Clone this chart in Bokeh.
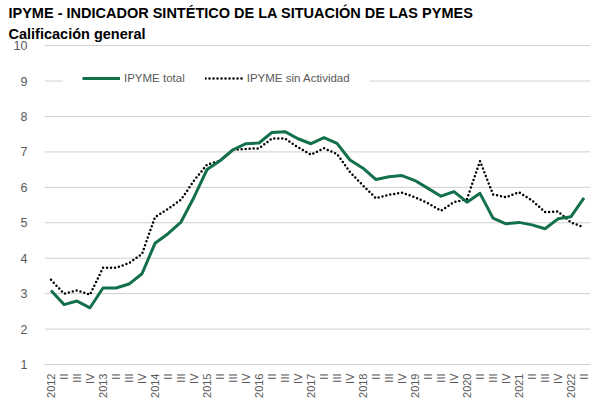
import math
from bokeh.plotting import figure
from bokeh.models import FixedTicker, Legend, LegendItem, Title, Range1d, ColumnDataSource, BoxAnnotation
from bokeh.embed import file_html
from bokeh.resources import INLINE

quarter_labels = [
    "2012", "II", "III", "IV", "2013", "II", "III", "IV",
    "2014", "II", "III", "IV", "2015", "II", "III", "IV",
    "2016", "II", "III", "IV", "2017", "II", "III", "IV",
    "2018", "II", "III", "IV", "2019", "II", "III", "IV",
    "2020", "II", "III", "IV", "2021", "II", "III", "IV",
    "2022", "II",
]

ipyme_total = [
    3.09, 2.69, 2.79, 2.60, 3.16, 3.16, 3.27, 3.56,
    4.42, 4.69, 5.02, 5.72, 6.50, 6.75, 7.06, 7.23,
    7.25, 7.55, 7.57, 7.37, 7.23, 7.40, 7.24, 6.77,
    6.54, 6.22, 6.30, 6.33, 6.19, 5.97, 5.75, 5.88,
    5.58, 5.83, 5.13, 4.97, 5.01, 4.94, 4.83, 5.11,
    5.17, 5.70,
]

ipyme_sin_actividad = [
    3.39, 3.00, 3.09, 2.97, 3.73, 3.73, 3.86, 4.12,
    5.16, 5.39, 5.65, 6.19, 6.64, 6.75, 7.06, 7.08,
    7.10, 7.38, 7.38, 7.13, 6.92, 7.10, 6.94, 6.43,
    6.05, 5.69, 5.79, 5.85, 5.72, 5.55, 5.34, 5.58,
    5.67, 6.74, 5.80, 5.72, 5.86, 5.63, 5.30, 5.32,
    5.01, 4.87,
]

y_ticks = [1, 2, 3, 4, 5, 6, 7, 8, 9, 10]

n = len(quarter_labels)
x_idx = list(range(n))
src = ColumnDataSource(dict(x=x_idx, total=ipyme_total, sin=ipyme_sin_actividad))

GREEN = "#12704A"
GRAY_TXT = "#595959"
GRID = "#D0D0D0"
FONT = "Liberation Sans"

x_lo, x_hi = -0.5, n - 0.5

p = figure(width=593, height=400, output_backend="svg", toolbar_location=None,
           x_range=Range1d(x_lo, x_hi),
           y_range=Range1d(y_ticks[0], y_ticks[-1] + 0.03),
           min_border_left=44, min_border_right=3, min_border_top=44, min_border_bottom=36)
p.outline_line_color = None
p.background_fill_color = "white"
p.border_fill_color = "white"

sub = Title(text="Calificación general", text_font_size="14.5px", text_font_style="bold",
            text_font=FONT, text_color="#000000", standoff=6, offset=-36)
p.add_layout(sub, "above")
ttl = Title(text="IPYME - INDICADOR SINTÉTICO DE LA SITUACIÓN DE LAS PYMES", text_font_size="14.5px",
            text_font_style="bold", text_font=FONT, text_color="#000000", standoff=0, offset=-36)
p.add_layout(ttl, "above")

# horizontal grid lines drawn as glyphs at the y tick values
p.xgrid.grid_line_color = None
p.ygrid.grid_line_color = None
p.segment(x0=[x_lo] * len(y_ticks), x1=[x_hi] * len(y_ticks), y0=y_ticks, y1=y_ticks,
          line_color=GRID, line_width=1)

r_sin = p.line("x", "sin", source=src, line_color="#000000", line_width=2.5,
               line_dash="0 4", line_cap="round")
r_tot = p.line("x", "total", source=src, line_color=GREEN, line_width=3, line_join="round")

# axes
p.xaxis.ticker = FixedTicker(ticks=x_idx)
p.xaxis.major_label_overrides = {i: lab for i, lab in enumerate(quarter_labels)}
p.xaxis.major_label_orientation = math.pi / 2
p.xaxis.major_label_text_font_size = "11px"
p.xaxis.major_label_text_font = FONT
p.xaxis.major_label_text_color = GRAY_TXT
p.xaxis.major_label_standoff = 3
p.xaxis.major_tick_line_color = None
p.xaxis.minor_tick_line_color = None
p.xaxis.axis_line_color = GRID

p.yaxis.ticker = FixedTicker(ticks=y_ticks)
p.yaxis.major_label_text_font_size = "12.5px"
p.yaxis.major_label_text_font = FONT
p.yaxis.major_label_text_color = GRAY_TXT
p.yaxis.major_label_standoff = 11
p.yaxis.major_tick_line_color = None
p.yaxis.minor_tick_line_color = None
p.yaxis.axis_line_color = None

# white area behind the legend (hides the grid line there, as in the original)
legend_bg = BoxAnnotation(left=0.9, right=24.5, bottom=8.6, top=9.4,
                          fill_color="white", fill_alpha=1.0, line_color=None)
p.add_layout(legend_bg)

legend = Legend(items=[LegendItem(label="IPYME total", renderers=[r_tot]),
                       LegendItem(label="IPYME sin Actividad", renderers=[r_sin])],
                orientation="horizontal", location=(38, 279),
                glyph_width=38, glyph_height=14, label_standoff=4, spacing=20,
                padding=6, margin=0,
                label_text_font_size="11.5px", label_text_font=FONT, label_text_color=GRAY_TXT,
                background_fill_alpha=0.0, border_line_color=None)
p.add_layout(legend, "center")

open("out.html", "w").write(file_html(p, INLINE))
